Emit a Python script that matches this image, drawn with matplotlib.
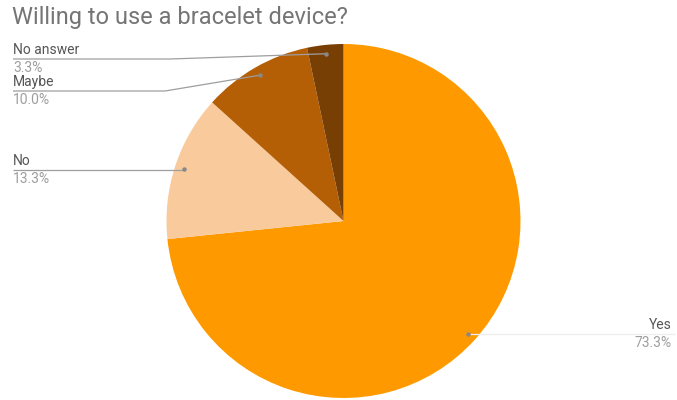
import numpy as np
import matplotlib
matplotlib.use('Agg')
from matplotlib import pyplot as plt

plt.rcParams['font.family'] = ['Roboto', 'DejaVu Sans']

labels = ['Yes', 'No', 'Maybe', 'No answer']
shares = [73.3, 13.3, 10.0, 3.3]
colors = ['#ff9900', '#f9cb9c', '#b45f06', '#783f04']

W, H = 677, 400
fig = plt.figure(figsize=(W / 100, H / 100), dpi=100)
ax = fig.add_axes([0, 0, 1, 1])

# work in pixel units, y measured upward
cx, cy, r = 343.5, H - 221, 177
wedges, _ = ax.pie(shares, colors=colors, startangle=90, counterclock=False,
                   center=(cx, cy), radius=r, frame=True,
                   wedgeprops=dict(linewidth=0))
ax.set_xlim(0, W)
ax.set_ylim(0, H)
ax.set_aspect('auto')
ax.axis('off')

# label anchor: (line y from top or None to follow the dot, line end x, elbow x, side)
layout = {
    'Yes': (None, 675, None, 'right'),
    'No': (170, 13, None, 'left'),
    'Maybe': (91, 13, 165, 'left'),
    'No answer': (59, 13, 170, 'left'),
}

for w, name, val in zip(wedges, labels, shares):
    mid = np.deg2rad((w.theta1 + w.theta2) / 2)
    dx = cx + 0.95 * r * np.cos(mid)
    dy = cy + 0.95 * r * np.sin(mid)
    ly, lx, elbow, side = layout[name]
    ly = dy if ly is None else H - ly
    if elbow is None:
        xs, ys = [dx, lx], [ly, ly]
    else:
        xs, ys = [dx, elbow, lx], [dy, ly, ly]
    ax.plot(xs, ys, color='#9e9e9e' if side == 'left' else '#eeeeee',
            lw=0.9, solid_capstyle='butt')
    ax.plot(dx, dy, 'o', color='#888888', ms=3.2, mec='none')
    ha = 'left' if side == 'left' else 'right'
    tx = lx if side == 'left' else lx - 3
    ax.text(tx, ly + 2, name, ha=ha, va='bottom', fontsize=10, color='#555555')
    ax.text(tx, ly - 2, f'{val:.1f}%', ha=ha, va='top', fontsize=10, color='#9e9e9e')

fig.text(12 / W, 1 - 6 / H, 'Willing to use a bracelet device?', ha='left', va='top',
         fontsize=17, color='#757575')

fig.savefig('out.png', dpi=100)
